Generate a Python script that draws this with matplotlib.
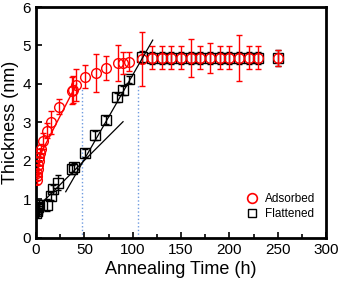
import matplotlib
matplotlib.use("Agg")
import matplotlib.pyplot as plt
from matplotlib.ticker import MultipleLocator

plt.rcParams['font.family'] = ['Liberation Sans', 'DejaVu Sans']

# Adsorbed layer (red circles)
ads_t = [0.5, 1.0, 1.5, 2.0, 2.5, 3.0, 3.5, 4.0, 4.8, 7.6, 11.7, 15, 24, 37, 38.6, 41,
         50.7, 61.7, 72, 85, 90, 96.5, 109.6, 120, 130, 140, 150, 160, 170, 180, 190,
         200, 210, 220, 230, 250]
ads_h = [1.5, 1.6, 1.7, 1.8, 1.9, 2.0, 2.1, 2.2, 2.31, 2.52, 2.79, 3.0, 3.41, 3.83, 3.85, 3.97,
         4.19, 4.29, 4.41, 4.54, 4.55, 4.58, 4.66, 4.68, 4.68, 4.68, 4.68, 4.68, 4.68, 4.68, 4.68,
         4.68, 4.68, 4.68, 4.68, 4.68]
ads_e = [0.1, 0.1, 0.1, 0.1, 0.1, 0.1, 0.1, 0.1, 0.12, 0.2, 0.2, 0.29, 0.2, 0.35, 0.35, 0.42,
         0.3, 0.5, 0.31, 0.46, 0.28, 0.25, 0.7, 0.3, 0.3, 0.3, 0.3, 0.5, 0.3, 0.39, 0.3,
         0.3, 0.6, 0.3, 0.3, 0.2]

# Flattened layer (black squares)
fla_t = [0, 0.5, 1.0, 2.0, 3.1, 11.7, 15, 18, 23, 37.5, 39, 50.4, 61, 72, 84, 90, 96.5,
         110, 120, 130, 140, 150, 160, 170, 180, 190, 200, 210, 220, 230, 250]
fla_h = [0.64, 0.7, 0.75, 0.8, 0.86, 0.86, 1.09, 1.26, 1.44, 1.78, 1.84, 2.2, 2.67, 3.06,
         3.65, 3.84, 4.12, 4.7, 4.68, 4.68, 4.68, 4.68, 4.68, 4.68, 4.68, 4.68, 4.68, 4.68,
         4.68, 4.68, 4.68]
fla_e = [0.1, 0.1, 0.1, 0.1, 0.12, 0.15, 0.1, 0.12, 0.2, 0.12, 0.12, 0.1, 0.12, 0.1,
         0.12, 0.12, 0.1, 0.15, 0.15, 0.15, 0.15, 0.15, 0.15, 0.15, 0.15, 0.15, 0.15, 0.15,
         0.15, 0.15, 0.2]

# Fit lines (endpoints) and guide lines
red_fit_t = [3.0, 42.0]
red_fit_h = [2.1, 4.0]
steep_fit_t = [30.7, 120.7]
steep_fit_h = [1.2, 5.14]
shallow_fit_t = [0.0, 90.0]
shallow_fit_h = [0.76, 3.02]
guide_t = [48, 105]
guide_top = [3.9, 4.0]

fig = plt.figure(figsize=(3.4, 2.86), dpi=100)
ax = fig.add_axes([0.106, 0.168, 0.853, 0.8075])

for t, top in zip(guide_t, guide_top):
    ax.plot([t, t], [0, top], ls=':', color='#6f9be0', lw=1.0, zorder=1)

ax.errorbar(fla_t, fla_h, yerr=fla_e, fmt='s', ms=6.5, mfc='none', mec='black', mew=1.0,
            ecolor='black', elinewidth=1.0, capsize=2.5, capthick=1.0, zorder=2)
ax.errorbar(ads_t, ads_h, yerr=ads_e, fmt='o', ms=7, mfc='none', mec='red', mew=1.0,
            ecolor='red', elinewidth=1.0, capsize=2.5, capthick=1.0, zorder=3)

ax.plot(steep_fit_t, steep_fit_h, color='black', lw=0.9, zorder=4)
ax.plot(shallow_fit_t, shallow_fit_h, color='black', lw=0.9, zorder=4)
ax.plot(red_fit_t, red_fit_h, color='red', lw=1.0, zorder=4)

ax.set_xlim(0, 300)
ax.set_ylim(0, 6)
ax.xaxis.set_major_locator(MultipleLocator(50))
ax.xaxis.set_minor_locator(MultipleLocator(25))
ax.yaxis.set_major_locator(MultipleLocator(1))
ax.tick_params(which='both', direction='in', top=False, right=False, width=1.2,
               labelsize=11)
ax.tick_params(which='major', length=4)
ax.tick_params(which='minor', length=3)
for s in ax.spines.values():
    s.set_linewidth(2)

ax.set_xlabel('Annealing Time (h)', fontsize=13, labelpad=3)
ax.set_ylabel('Thickness (nm)', fontsize=13, labelpad=3)

handles = [plt.Line2D([], [], ls='none', marker='o', ms=7, mfc='none', mec='red', mew=1.2),
           plt.Line2D([], [], ls='none', marker='s', ms=6, mfc='none', mec='black', mew=1.0)]
ax.legend(handles, ['Adsorbed', 'Flattened'], loc='lower right', frameon=False,
          bbox_to_anchor=(1.0, 0.03), fontsize=8.5, handletextpad=0.6, labelspacing=0.3,
          handlelength=1.0)

fig.savefig('out.png', dpi=100)
